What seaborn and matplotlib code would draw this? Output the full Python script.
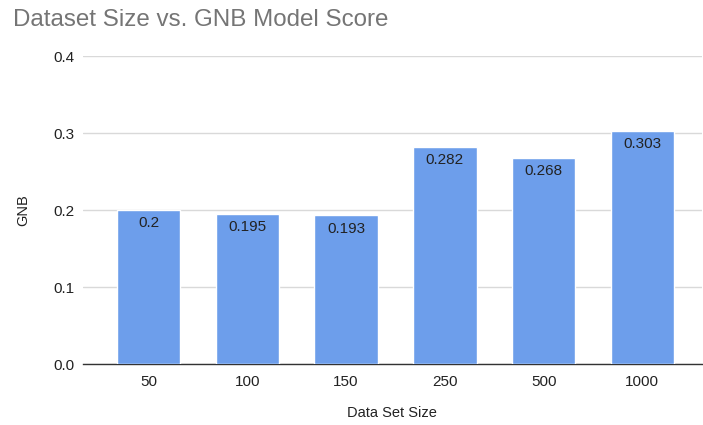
import numpy as np
import pandas as pd
import matplotlib
matplotlib.use("Agg")
import matplotlib.pyplot as plt
import seaborn as sns

# chart data
sizes = ['50', '100', '150', '250', '500', '1000']
gnb = [0.2, 0.195, 0.193, 0.282, 0.268, 0.303]
value_labels = ['0.2', '0.195', '0.193', '0.282', '0.268', '0.303']
y_ticks = [0.0, 0.1, 0.2, 0.3, 0.4]

df = pd.DataFrame({'size': sizes, 'gnb': gnb})

sns.set_style('white')
plt.rcParams['font.family'] = ['Liberation Sans', 'DejaVu Sans']

fig = plt.figure(figsize=(7.03, 4.25), dpi=100)
ax = fig.add_axes([0.118, 0.1435, 0.88, 0.7245])

sns.barplot(data=df, x='size', y='gnb', color='#6d9eeb', saturation=1,
            width=0.645, ax=ax, zorder=3)

for p, lab in zip(ax.patches, value_labels):
    ax.text(p.get_x() + p.get_width() / 2, p.get_height() - 0.008, lab,
            ha='center', va='top', fontsize=11, color='#222222', zorder=4)

ax.set_ylim(0, 0.4)
ax.set_xlim(-0.665, 5.6)
ax.set_yticks(y_ticks)
ax.set_yticklabels(['{:.1f}'.format(v) for v in y_ticks])
ax.yaxis.grid(True, color='#d9d9d9', linewidth=1, zorder=0)
for s in ['top', 'right', 'left']:
    ax.spines[s].set_visible(False)
ax.spines['bottom'].set_color('#333333')
ax.spines['bottom'].set_linewidth(1)
ax.tick_params(axis='both', length=0, labelsize=11, colors='#222222', pad=8)
ax.tick_params(axis='y', pad=6)

ax.set_xlabel('Data Set Size', fontsize=10.5, color='#222222', labelpad=12)
ax.set_ylabel('GNB', fontsize=10.5, color='#222222', labelpad=17)

fig.text(0.019, 0.953, 'Dataset Size vs. GNB Model Score', fontsize=17.4,
         color='#757575', ha='left', va='center')

fig.savefig('out.png', dpi=100)
